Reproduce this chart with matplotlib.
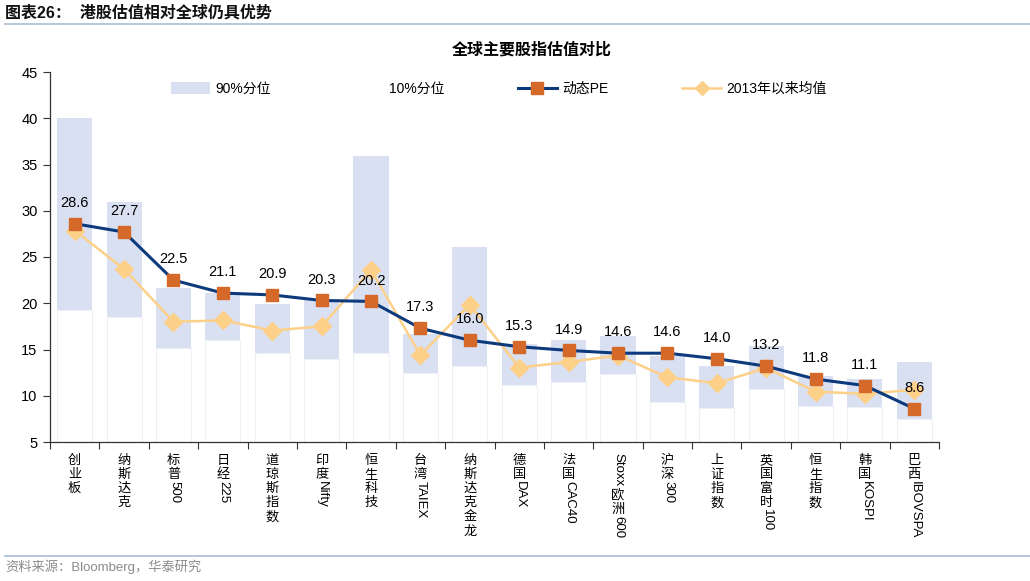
import re
import matplotlib
matplotlib.use("Agg")
import matplotlib.pyplot as plt
from matplotlib.font_manager import FontProperties
from matplotlib.textpath import TextPath
from matplotlib.lines import Line2D
from matplotlib.patches import Patch

plt.rcParams['font.family'] = ['Liberation Sans', 'Noto Sans CJK SC', 'DejaVu Sans']

categories = ["创业板", "纳斯达克", "标普500", "日经225", "道琼斯指数", "印度Nifty", "恒生科技",
              "台湾TAIEX", "纳斯达克金龙", "德国DAX", "法国CAC40", "Stoxx欧洲600", "沪深300",
              "上证指数", "英国富时100", "恒生指数", "韩国KOSPI", "巴西IBOVSPA"]
pe_now = [28.6, 27.7, 22.5, 21.1, 20.9, 20.3, 20.2, 17.3, 16.0, 15.3, 14.9, 14.6, 14.6,
          14.0, 13.2, 11.8, 11.1, 8.6]
avg_2013 = [27.85, 23.7, 18.0, 18.15, 17.05, 17.5, 23.6, 14.4, 19.85, 13.05, 13.65, 14.35, 12.0,
            11.35, 13.0, 10.45, 10.2, 10.65]
p90 = [40.0, 30.9, 21.7, 21.1, 19.9, 20.45, 35.9, 16.65, 26.05, 15.6, 16.05, 16.5, 14.35,
       13.25, 15.4, 12.1, 11.85, 13.6]
p10 = [19.3, 18.55, 15.2, 16.0, 14.6, 14.0, 14.6, 12.45, 13.25, 11.2, 11.45, 12.4, 9.3,
       8.65, 10.7, 8.85, 8.75, 7.45]
yticks = [5, 10, 15, 20, 25, 30, 35, 40, 45]

NAVY = '#0C3A7C'
ORANGE = '#D4692A'
LIGHT_OR = '#FDD08A'
LAV = '#D9E0F2'

fig = plt.figure(figsize=(10.30, 5.81), dpi=100)
ax = fig.add_axes([50/1030, 1-442/581, (939-50)/1030, (442-72)/581])

x = list(range(len(categories)))
w = 0.71
ax.bar(x, p10, width=w, color='white', edgecolor='#EEF0F7', linewidth=0.8, zorder=1)
ax.bar(x, [a - b for a, b in zip(p90, p10)], bottom=p10, width=w, color=LAV,
       edgecolor='none', zorder=1)
ax.plot(x, avg_2013, color=LIGHT_OR, lw=1.8, marker='D', ms=9.5, mfc=LIGHT_OR,
        mec=LIGHT_OR, zorder=3)
ax.plot(x, pe_now, color=NAVY, lw=2.2, marker='s', ms=9, mfc=ORANGE, mec=ORANGE, zorder=4)

for xi, v in zip(x, pe_now):
    ax.annotate(f"{v:.1f}", xy=(xi, v), xytext=(0, 15), textcoords='offset points',
                ha='center', va='center', fontsize=10.5, color='black', zorder=5)

ax.set_xlim(-0.5, len(categories) - 0.5)
ax.set_ylim(5, 45)
ax.set_yticks(yticks)
ax.tick_params(axis='y', labelsize=10.5, length=5, width=0.8, colors='#333333',
               labelcolor='black', pad=4)
ax.set_xticks([i - 0.5 for i in range(len(categories) + 1)])
ax.set_xticklabels([])
ax.tick_params(axis='x', length=5, width=0.8, colors='#333333', direction='out')
for s in ['top', 'right']:
    ax.spines[s].set_visible(False)
for s in ['left', 'bottom']:
    ax.spines[s].set_color('#333333')
    ax.spines[s].set_linewidth(0.9)

# vertical category labels
fs = 9.5
adv = 10.2
latin_prop = FontProperties(family='Liberation Sans', size=fs)
trans = ax.get_xaxis_transform()
for i, lab in enumerate(categories):
    cursor = 8.0
    for run in re.findall(r'[\u4e00-\u9fff]|[^\u4e00-\u9fff]+', lab):
        if re.match(r'[\u4e00-\u9fff]', run):
            ax.annotate(run, xy=(i, 0), xycoords=trans, xytext=(0, -(cursor + adv / 2)),
                        textcoords='offset points', ha='center', va='center',
                        fontsize=fs, family=['Noto Sans CJK SC'], annotation_clip=False)
            cursor += adv
        else:
            wdt = TextPath((0, 0), run, size=fs, prop=latin_prop).get_extents().width
            ax.annotate(run, xy=(i, 0), xycoords=trans, xytext=(0.5, -(cursor - 0.2)),
                        textcoords='offset points', ha='center', va='top', rotation=-90,
                        fontsize=fs, family=['Liberation Sans'], annotation_clip=False)
            cursor += wdt + 2.0

# legend
handles = [Patch(facecolor=LAV, edgecolor='none'),
           Patch(facecolor='white', edgecolor='none'),
           Line2D([0], [0], color=NAVY, lw=2.2, marker='s', ms=8, mfc=ORANGE, mec=ORANGE),
           Line2D([0], [0], color=LIGHT_OR, lw=1.8, marker='D', ms=7, mfc=LIGHT_OR, mec=LIGHT_OR)]
labels = ["90%分位", "10%分位", "动态PE", "2013年以来均值"]
ax.legend(handles, labels, loc='center', bbox_to_anchor=(0.505, 0.954), ncol=4, frameon=False,
          handlelength=2.8, handleheight=0.9, handletextpad=0.4,
          columnspacing=5.3,
          prop={'family': ['Liberation Sans', 'Noto Sans CJK SC'], 'size': 10})

# titles and decorations
fig.text(532/1030, 1-50/581, "全球主要股指估值对比", ha='center', va='center',
         fontsize=11.5, fontweight='bold', family=['Noto Sans CJK SC'])
fig.text(5/1030, 1-13/581, "图表26：  港股估值相对全球仍具优势", ha='left', va='center',
         fontsize=11.5, fontweight='bold', family=['Liberation Sans', 'Noto Sans CJK SC'],
         color='#111111')
fig.add_artist(Line2D([5/1030, 1.0], [1-24/581, 1-24/581], color='#A9BED3', lw=1.2))
fig.add_artist(Line2D([5/1030, 1.0], [1-556/581, 1-556/581], color='#A9BED3', lw=1.2))
fig.text(5/1030, 1-567/581, "资料来源：Bloomberg，华泰研究", ha='left', va='center',
         fontsize=9.5, color='#8C8C8C', family=['Liberation Sans', 'Noto Sans CJK SC'])

fig.savefig("out.png", dpi=100)
